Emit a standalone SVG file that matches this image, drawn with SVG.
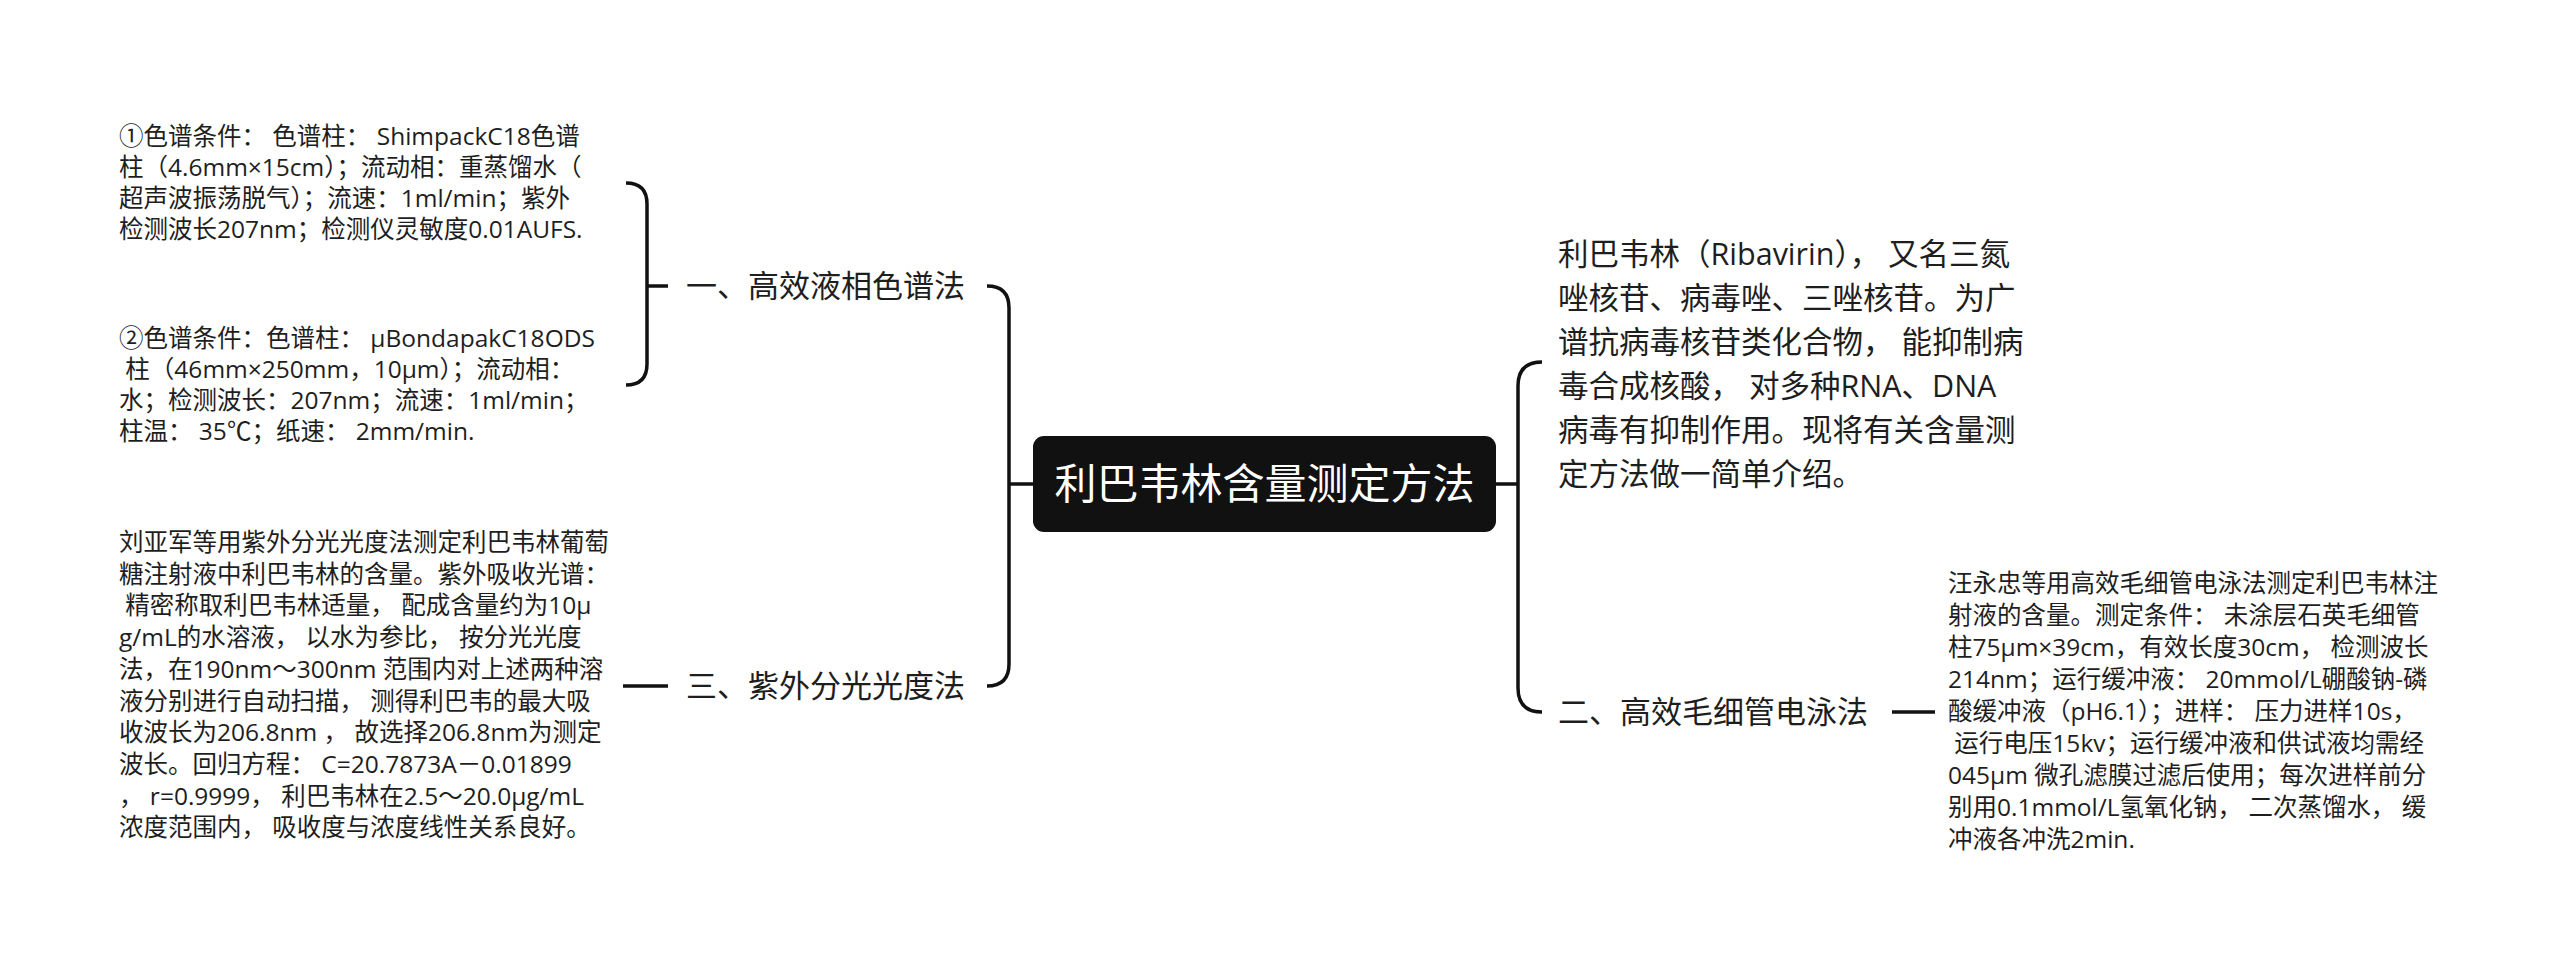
<svg xmlns="http://www.w3.org/2000/svg" width="2560" height="973" viewBox="0 0 2560 973">
<style>
text{font-family:"Open Sans","Noto Sans CJK SC",sans-serif;fill:#1e1e1e;white-space:pre}
.root{font-size:42px;fill:#ffffff}
.lbl{font-size:31px}
.sm{font-size:24.5px}
.md{font-size:30.5px}
.ln{fill:none;stroke:#111;stroke-width:3.5;stroke-linecap:butt}
</style>
<rect width="2560" height="973" fill="#ffffff"/>
<g id="connectors">
<path class="ln" d="M1033,484 H1009"/>
<path class="ln" d="M987,286 Q1009,286 1009,308 V664 Q1009,686 987,686"/>
<path class="ln" d="M626,183 Q647,183 647,204 V364 Q647,385 626,385"/>
<path class="ln" d="M647,286 H668"/>
<path class="ln" d="M623,686 H668"/>
<path class="ln" d="M1496,484 H1518"/>
<path class="ln" d="M1542,362 Q1518,362 1518,386 V688 Q1518,712 1542,712"/>
<path class="ln" d="M1892,712 H1935"/>
</g>
<g id="root">
<rect x="1033" y="436" width="463" height="96" rx="11" fill="#111111"/>
<text class="root" x="1264.5" y="499" text-anchor="middle">利巴韦林含量测定方法</text>
</g>
<g id="n1">
<text class="lbl" x="686" y="297">一、高效液相色谱法</text>
</g>
<g id="n1a">
<text class="sm" x="119" y="145">①色谱条件： 色谱柱： ShimpackC18色谱</text>
<text class="sm" x="119" y="176">柱（4.6mm×15cm）；流动相：重蒸馏水（</text>
<text class="sm" x="119" y="207">超声波振荡脱气）；流速：1ml/min；紫外</text>
<text class="sm" x="119" y="238">检测波长207nm；检测仪灵敏度0.01AUFS.</text>
</g>
<g id="n1b">
<text class="sm" x="119" y="347">②色谱条件：色谱柱： μBondapakC18ODS</text>
<text class="sm" x="119" y="378"> 柱（46mm×250mm，10μm）；流动相：</text>
<text class="sm" x="119" y="409">水；检测波长：207nm；流速：1ml/min；</text>
<text class="sm" x="119" y="440">柱温： 35℃；纸速： 2mm/min.</text>
</g>
<g id="n3">
<text class="lbl" x="686" y="697">三、紫外分光光度法</text>
</g>
<g id="n3a">
<text class="sm" x="119" y="551">刘亚军等用紫外分光光度法测定利巴韦林葡萄</text>
<text class="sm" x="119" y="582.7">糖注射液中利巴韦林的含量。紫外吸收光谱：</text>
<text class="sm" x="119" y="614.4"> 精密称取利巴韦林适量， 配成含量约为10μ</text>
<text class="sm" x="119" y="646.1">g/mL的水溶液， 以水为参比， 按分光光度</text>
<text class="sm" x="119" y="677.8">法，在190nm～300nm 范围内对上述两种溶</text>
<text class="sm" x="119" y="709.5">液分别进行自动扫描， 测得利巴韦的最大吸</text>
<text class="sm" x="119" y="741.2">收波长为206.8nm ， 故选择206.8nm为测定</text>
<text class="sm" x="119" y="772.9">波长。回归方程： C=20.7873A－0.01899</text>
<text class="sm" x="119" y="804.6">， r=0.9999， 利巴韦林在2.5～20.0μg/mL</text>
<text class="sm" x="119" y="836.3">浓度范围内， 吸收度与浓度线性关系良好。</text>
</g>
<g id="n0">
<text class="md" x="1558" y="265">利巴韦林（Ribavirin）， 又名三氮</text>
<text class="md" x="1558" y="309">唑核苷、病毒唑、三唑核苷。为广</text>
<text class="md" x="1558" y="353">谱抗病毒核苷类化合物， 能抑制病</text>
<text class="md" x="1558" y="397">毒合成核酸， 对多种RNA、DNA</text>
<text class="md" x="1558" y="441">病毒有抑制作用。现将有关含量测</text>
<text class="md" x="1558" y="485">定方法做一简单介绍。</text>
</g>
<g id="n2">
<text class="lbl" x="1558" y="723">二、高效毛细管电泳法</text>
</g>
<g id="n2a">
<text class="sm" x="1948" y="592">汪永忠等用高效毛细管电泳法测定利巴韦林注</text>
<text class="sm" x="1948" y="624">射液的含量。测定条件： 未涂层石英毛细管</text>
<text class="sm" x="1948" y="656">柱75μm×39cm，有效长度30cm， 检测波长</text>
<text class="sm" x="1948" y="688">214nm；运行缓冲液： 20mmol/L硼酸钠-磷</text>
<text class="sm" x="1948" y="720">酸缓冲液（pH6.1）；进样： 压力进样10s，</text>
<text class="sm" x="1948" y="752"> 运行电压15kv；运行缓冲液和供试液均需经</text>
<text class="sm" x="1948" y="784">045μm 微孔滤膜过滤后使用；每次进样前分</text>
<text class="sm" x="1948" y="816">别用0.1mmol/L氢氧化钠， 二次蒸馏水， 缓</text>
<text class="sm" x="1948" y="848">冲液各冲洗2min.</text>
</g>
</svg>
